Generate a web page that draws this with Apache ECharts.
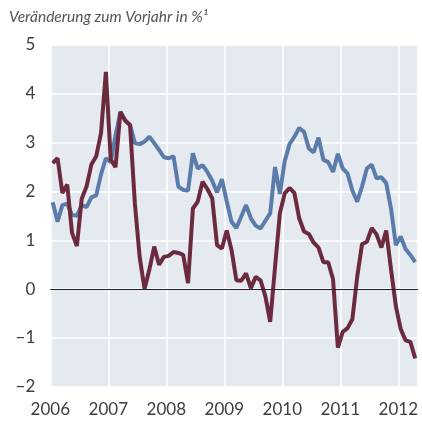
<!DOCTYPE html>
<html>
<head>
<meta charset="utf-8">
<title>Veränderung zum Vorjahr</title>
<script src="https://cdn.jsdelivr.net/npm/echarts@6/dist/echarts.min.js"></script>
<style>
	html, body { margin: 0; padding: 0; background: #fff; }
	#chart { width: 422px; height: 423px; }
</style>
</head>
<body>
<div id="chart"></div>
<script>
	// Monatswerte Jan 2006 - Apr 2012
	var startYear = 2006;
	var yearTicks = [2006, 2007, 2008, 2009, 2010, 2011, 2012];

	var blueSeries = [
		1.78, 1.38, 1.72, 1.75, 1.52, 1.50, 1.72, 1.68, 1.88, 1.92, 2.35, 2.68,
		2.60, 3.15, 3.63, 3.46, 3.36, 2.99, 2.97, 3.02, 3.12, 2.99, 2.85, 2.70,
		2.68, 2.72, 2.10, 2.03, 2.02, 2.78, 2.47, 2.54, 2.40, 2.22, 1.98, 2.25,
		1.80, 1.38, 1.25, 1.48, 1.72, 1.45, 1.30, 1.24, 1.40, 1.55, 2.50, 1.95,
		2.62, 2.97, 3.12, 3.30, 3.22, 2.88, 2.80, 3.10, 2.65, 2.60, 2.40, 2.77,
		2.47, 2.37, 2.02, 1.79, 2.10, 2.47, 2.55, 2.27, 2.29, 2.17, 1.65, 0.90,
		1.08, 0.82, 0.70, 0.55
	];

	var redSeries = [
		2.58, 2.68, 1.97, 2.14, 1.15, 0.88, 1.85, 2.10, 2.55, 2.72, 3.20, 4.45,
		2.65, 2.50, 3.63, 3.45, 3.36, 1.75, 0.65, 0.00, 0.40, 0.87, 0.50, 0.66,
		0.68, 0.76, 0.74, 0.70, 0.12, 1.65, 1.79, 2.20, 2.05, 1.86, 0.90, 0.83,
		1.20, 0.80, 0.18, 0.17, 0.32, 0.02, 0.25, 0.18, -0.15, -0.67, 0.45, 1.55,
		1.96, 2.07, 1.97, 1.45, 1.18, 1.13, 0.95, 0.85, 0.55, 0.55, 0.20, -1.20,
		-0.88, -0.80, -0.62, 0.25, 0.92, 0.97, 1.25, 1.12, 0.85, 1.20, 0.40, -0.35,
		-0.82, -1.05, -1.08, -1.42
	];

	var yTicks = [-2, -1, 0, 1, 2, 3, 4, 5];

	function toPairs(arr) { // Monat -> Jahr (Monatsmitte)
		var out = [];
		for (var i = 0; i < arr.length; i++) {
			out.push([startYear + (i + 0.5) / 12, arr[i]]);
		}
		return out;
	}

	var labelFont = 'Lato, "Open Sans", sans-serif';
	var myChart = echarts.init(document.getElementById('chart'));

	myChart.setOption({
		animation: false,
		title: {
			text: 'Veränderung zum Vorjahr in %¹',
			left: 4,
			top: 4,
			textStyle: {
				fontFamily: labelFont,
				fontStyle: 'italic',
				fontWeight: 'normal',
				fontSize: 15.5,
				color: '#555'
			}
		},
		grid: {
			left: 50.3,
			right: 4,
			top: 45,
			bottom: 36.3,
			show: true,
			backgroundColor: '#e5e9f0',
			borderWidth: 0
		},
		xAxis: {
			type: 'value',
			min: yearTicks[0],
			max: 2012.34,
			interval: 1,
			axisLine: { show: false },
			axisTick: { show: false },
			axisLabel: {
				margin: 14,
				fontFamily: labelFont,
				fontSize: 17,
				color: '#3d3d3d',
				formatter: function(v) {
					return yearTicks.indexOf(v) >= 0 ? String(v) : '';
				}
			},
			splitLine: { show: true, lineStyle: { color: '#ffffff', width: 1.5 } }
		},
		yAxis: {
			type: 'value',
			min: yTicks[0],
			max: yTicks[yTicks.length - 1],
			interval: 1,
			axisLine: { show: false },
			axisTick: { show: false },
			axisLabel: {
				margin: 15,
				fontFamily: labelFont,
				fontSize: 17,
				color: '#3d3d3d',
				formatter: function(v) {
					return v < 0 ? '\u2212' + Math.abs(v) : String(v);
				}
			},
			splitLine: { show: true, lineStyle: { color: '#ffffff', width: 1.5 } }
		},
		series: [
			{
				type: 'line',
				data: toPairs(blueSeries),
				showSymbol: false,
				lineStyle: { color: '#5b7cab', width: 4 },
				markLine: { // Nulllinie
					silent: true,
					symbol: 'none',
					label: { show: false },
					lineStyle: { color: '#222', width: 1, type: 'solid' },
					data: [{ yAxis: 0 }]
				}
			},
			{
				type: 'line',
				data: toPairs(redSeries),
				showSymbol: false,
				lineStyle: { color: '#6b2a3e', width: 4 }
			}
		]
	});
</script>
</body>
</html>
